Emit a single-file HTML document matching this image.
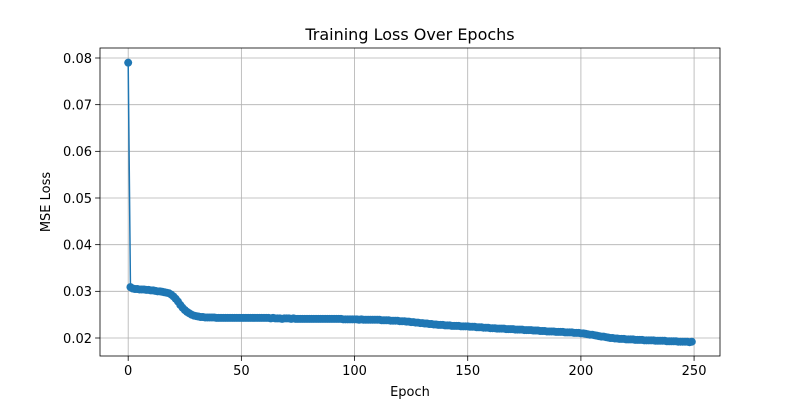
<!DOCTYPE html>
<html><head><meta charset="utf-8"><style>
html,body{margin:0;padding:0;background:#fff;}
svg text{font-family:"DejaVu Sans","Liberation Sans",sans-serif;fill:#000;}
</style></head><body>
<svg id="chart" width="800" height="400" viewBox="0 0 800 400" xmlns="http://www.w3.org/2000/svg">
<rect width="800" height="400" fill="#fff"/>
<g id="grid"></g>
<g id="series"></g>
<rect x="100" y="48" width="620" height="308" fill="none" stroke="#000" stroke-width="0.8"/>
<g id="xticks"></g>
<g id="yticks"></g>
<text x="410" y="40" text-anchor="middle" font-size="16">Training Loss Over Epochs</text>
<text x="410" y="396" text-anchor="middle" font-size="13">Epoch</text>
<text transform="translate(50,202) rotate(-90)" text-anchor="middle" font-size="13">MSE Loss</text>
</svg>
<script>
const lossValues = [
.0790,.0309,.0306,.0305,.0305,.0304,.0304,.0304,.0303,.0303,
.0302,.0302,.0301,.0300,.0300,.0299,.0298,.0297,.0296,.0293,
.0289,.0284,.0278,.0271,.0265,.0260,.0256,.0253,.0250,.0248,
.0247,.0246,.0245,.0245,.0244,.0244,.0244,.0244,.0244,.0243,
.0243,.0243,.0243,.0243,.0243,.0243,.0243,.0243,.0243,.0243,
.0243,.0243,.0243,.0243,.0243,.0243,.0243,.0243,.0243,.0243,
.0243,.0243,.0243,.0242,.0243,.0242,.0242,.0242,.0241,.0242,
.0242,.0242,.0241,.0242,.0241,.0241,.0241,.0241,.0241,.0241,
.0241,.0241,.0241,.0241,.0241,.0241,.0241,.0241,.0241,.0241,
.0241,.0241,.0241,.0241,.0241,.0240,.0240,.0240,.0240,.0240,
.0240,.0240,.0239,.0240,.0239,.0239,.0239,.0239,.0239,.0239,
.0239,.0239,.0238,.0238,.0238,.0238,.0237,.0237,.0237,.0237,
.0236,.0236,.0236,.0235,.0235,.0234,.0234,.0233,.0233,.0232,
.0232,.0231,.0231,.0230,.0230,.0229,.0229,.0228,.0228,.0228,
.0227,.0227,.0227,.0226,.0226,.0226,.0226,.0225,.0225,.0225,
.0225,.0224,.0224,.0224,.0223,.0223,.0223,.0222,.0222,.0222,
.0221,.0221,.0221,.0220,.0220,.0220,.0220,.0219,.0219,.0219,
.0219,.0218,.0218,.0218,.0218,.0217,.0217,.0217,.0217,.0216,
.0216,.0216,.0215,.0215,.0215,.0214,.0214,.0214,.0214,.0213,
.0213,.0213,.0213,.0212,.0212,.0212,.0212,.0211,.0211,.0211,
.0210,.0210,.0209,.0208,.0207,.0207,.0206,.0205,.0204,.0203,
.0203,.0202,.0201,.0200,.0200,.0199,.0199,.0198,.0198,.0198,
.0197,.0197,.0197,.0197,.0196,.0196,.0196,.0196,.0195,.0195,
.0195,.0195,.0195,.0194,.0194,.0194,.0194,.0194,.0193,.0193,
.0193,.0193,.0193,.0192,.0192,.0192,.0192,.0192,.0191,.0192
];
const xTickValues = [0,50,100,150,200,250];
const yTickValues = [0.02,0.03,0.04,0.05,0.06,0.07,0.08];
const yTickLabels = ["0.02","0.03","0.04","0.05","0.06","0.07","0.08"];

const NS = "http://www.w3.org/2000/svg";
const L=100,R=720,T=48,B=356;
const xMin=-12.45, xMax=261.45;
function xs(v){return L+(v-xMin)/(xMax-xMin)*(R-L);}
function ys(v){return 338-(v-0.02)*4666.7;}
function mk(tag,attrs,parent){const e=document.createElementNS(NS,tag);for(const k in attrs)e.setAttribute(k,attrs[k]);parent.appendChild(e);return e;}
const grid=document.getElementById('grid'), xt=document.getElementById('xticks'), yt=document.getElementById('yticks'), ser=document.getElementById('series');
xTickValues.forEach(v=>{
  const x=xs(v);
  const g=mk('line',{x1:x,x2:x,y1:T,y2:B,stroke:'#b0b0b0','stroke-width':0.8},grid);
  
  
  const t=mk('line',{x1:x,x2:x,y1:B,y2:B+4.9,stroke:'#000','stroke-width':0.8},xt);
  
  
  const l=mk('text',{x:x,y:B+19,'text-anchor':'middle','font-size':13},xt);
  
  
  l.textContent=String(v);
});
yTickValues.forEach((v,i)=>{
  const y=ys(v);
  const g=mk('line',{x1:L,x2:R,y1:y,y2:y,stroke:'#b0b0b0','stroke-width':0.8},grid);
  
  
  const t=mk('line',{x1:L-4.9,x2:L,y1:y,y2:y,stroke:'#000','stroke-width':0.8},yt);
  
  
  const l=mk('text',{x:L-8,y:y+4.8,'text-anchor':'end','font-size':13},yt);
  
  
  l.textContent=yTickLabels[i];
});
const pts=lossValues.map((v,i)=>xs(i).toFixed(2)+','+ys(v).toFixed(2)).join(' ');
const line=mk('polyline',{points:pts,fill:'none',stroke:'#1f77b4','stroke-width':1.5,'stroke-linejoin':'round'},ser);


lossValues.forEach((v,i)=>{
  const c=mk('circle',{cx:xs(i),cy:ys(v),r:4,fill:'#1f77b4'},ser);
  
  
});
</script>
</body></html>
